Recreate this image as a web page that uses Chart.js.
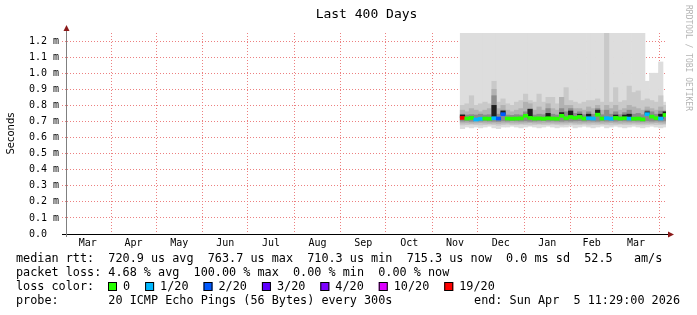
<!DOCTYPE html>
<html lang="en">
  <head>
    <meta charset="UTF-8" />
    <title>Last 400 Days</title>
    <script src="https://cdn.jsdelivr.net/npm/chart.js"></script>
    <style>
      html, body { margin: 0; padding: 0; background: #fff; }
      canvas { display: block; }
    </style>
  </head>
  <body>
    <canvas id="smokeChart" width="697" height="315"></canvas>
    <script>
      // days counted from 1 Mar 2025
      const monthStarts = [0, 31, 61, 92, 122, 153, 184, 214, 245, 275, 306, 337, 365, 396, 426];
      const monthLabels = ['Mar', 'Apr', 'May', 'Jun', 'Jul', 'Aug', 'Sep', 'Oct', 'Nov', 'Dec', 'Jan', 'Feb', 'Mar', 'Apr'];
      const yTicks = [0, 0.1, 0.2, 0.3, 0.4, 0.5, 0.6, 0.7, 0.8, 0.9, 1.0, 1.1, 1.2];

      // one entry per 3-day step (values in ms)
      const dayCenters = [265, 268, 271, 274, 277, 280, 283, 286, 289, 292, 295, 298, 301, 304, 307, 310,
        313, 316, 319, 322, 325, 328, 331, 334, 337, 340, 343, 346, 349, 352, 355, 358, 361, 364, 367, 370,
        373, 376, 379, 382, 385, 388, 391, 394, 397, 400];

      const medianRtt = [0.722, 0.718, 0.722, 0.712, 0.716, 0.718, 0.717, 0.72, 0.718, 0.745, 0.718, 0.717,
        0.718, 0.719, 0.735, 0.722, 0.718, 0.719, 0.717, 0.72, 0.718, 0.717, 0.735, 0.72, 0.728, 0.722, 0.728,
        0.718, 0.72, 0.718, 0.742, 0.718, 0.72, 0.717, 0.722, 0.718, 0.72, 0.718, 0.717, 0.718, 0.713, 0.745,
        0.73, 0.72, 0.718, 0.74];

      const lossCount = [19, 0, 0, 1, 1, 0, 0, 1, 2, 2, 0, 0, 0, 0, 0, 0, 0, 0, 0, 0, 0, 0, 0, 0, 0, 0, 0,
        0, 1, 1, 0, 0, 1, 1, 0, 0, 0, 1, 0, 0, 0, 1, 0, 0, 1, 0];

      const pingMax = [1.25, 1.25, 1.25, 1.25, 1.25, 1.25, 1.25, 1.25, 1.25, 1.25, 1.25, 1.25, 1.25, 1.25,
        1.25, 1.25, 1.25, 1.25, 1.25, 1.25, 1.25, 1.25, 1.25, 1.25, 1.25, 1.25, 1.25, 1.25, 1.25, 1.25, 1.25,
        1.25, 1.25, 1.25, 1.25, 1.25, 1.25, 1.25, 1.25, 1.25, 1.25, 0.95, 1.0, 1.0, 1.07, 0.82];
      const pingMin = [0.655, 0.665, 0.66, 0.665, 0.66, 0.665, 0.67, 0.66, 0.655, 0.665, 0.665, 0.67, 0.665,
        0.66, 0.665, 0.67, 0.665, 0.66, 0.665, 0.67, 0.665, 0.66, 0.665, 0.665, 0.67, 0.66, 0.665, 0.67, 0.665,
        0.66, 0.665, 0.67, 0.66, 0.665, 0.67, 0.665, 0.66, 0.665, 0.67, 0.665, 0.66, 0.665, 0.67, 0.665, 0.66,
        0.665];

      const smokeOuterLo = [0.678, 0.68, 0.682, 0.68, 0.678, 0.68, 0.682, 0.68, 0.676, 0.68, 0.682, 0.68, 0.68,
        0.682, 0.68, 0.678, 0.68, 0.682, 0.68, 0.68, 0.682, 0.68, 0.678, 0.68, 0.682, 0.68, 0.68, 0.682, 0.678,
        0.68, 0.68, 0.682, 0.68, 0.678, 0.68, 0.682, 0.68, 0.68, 0.682, 0.68, 0.678, 0.68, 0.682, 0.68, 0.68,
        0.682];
      const smokeOuterHi = [0.8, 0.81, 0.86, 0.8, 0.81, 0.82, 0.81, 0.95, 0.82, 0.84, 0.81, 0.8, 0.82, 0.83,
        0.87, 0.83, 0.82, 0.87, 0.82, 0.85, 0.85, 0.81, 0.84, 0.91, 0.83, 0.82, 0.81, 0.82, 0.83, 0.83, 0.84,
        0.82, 1.25, 0.82, 0.91, 0.82, 0.83, 0.92, 0.88, 0.89, 0.83, 0.84, 0.83, 0.82, 0.86, 0.8];

      const smokeMidLo = [0.69, 0.691, 0.689, 0.69, 0.692, 0.69, 0.689, 0.69, 0.688, 0.69, 0.691, 0.69, 0.69,
        0.689, 0.69, 0.692, 0.69, 0.689, 0.69, 0.691, 0.69, 0.689, 0.69, 0.69, 0.692, 0.69, 0.689, 0.69, 0.69,
        0.691, 0.69, 0.689, 0.69, 0.692, 0.69, 0.689, 0.69, 0.69, 0.691, 0.69, 0.689, 0.69, 0.69, 0.692, 0.69,
        0.689];
      const smokeMidHi = [0.77, 0.76, 0.78, 0.77, 0.76, 0.77, 0.78, 0.9, 0.78, 0.8, 0.77, 0.76, 0.77, 0.78,
        0.82, 0.81, 0.77, 0.79, 0.77, 0.81, 0.78, 0.77, 0.85, 0.8, 0.8, 0.78, 0.78, 0.77, 0.79, 0.78, 0.8, 0.77,
        0.8, 0.78, 0.8, 0.77, 0.78, 0.8, 0.79, 0.78, 0.77, 0.79, 0.78, 0.77, 0.79, 0.77];

      const smokeInnerLo = [0.702, 0.703, 0.701, 0.704, 0.702, 0.703, 0.702, 0.701, 0.7, 0.703, 0.702, 0.704,
        0.703, 0.702, 0.703, 0.701, 0.702, 0.703, 0.704, 0.702, 0.703, 0.702, 0.701, 0.703, 0.702, 0.703, 0.704,
        0.702, 0.703, 0.702, 0.701, 0.703, 0.702, 0.703, 0.702, 0.704, 0.703, 0.702, 0.703, 0.702, 0.701, 0.703,
        0.702, 0.703, 0.702, 0.703];
      const smokeInnerHi = [0.745, 0.74, 0.742, 0.74, 0.745, 0.74, 0.742, 0.86, 0.745, 0.77, 0.74, 0.738, 0.742,
        0.74, 0.76, 0.78, 0.74, 0.745, 0.742, 0.78, 0.745, 0.74, 0.78, 0.76, 0.78, 0.75, 0.76, 0.742, 0.76, 0.745,
        0.78, 0.742, 0.77, 0.745, 0.76, 0.742, 0.755, 0.77, 0.745, 0.75, 0.742, 0.77, 0.76, 0.745, 0.765, 0.76];

      // darkest part of the smoke, only where it sticks out above the median
      const smokeCoreHi = [0.74, null, null, null, null, null, null, 0.8, null, 0.765, null, null, null, null,
        null, 0.775, null, null, null, 0.75, null, null, 0.755, null, 0.765, null, 0.745, null, 0.745, null, 0.77,
        null, null, null, 0.74, null, 0.74, 0.745, null, null, null, 0.76, null, null, 0.745, 0.76];

      const lossLegend = [
        { n: 0, label: '0', color: '#26ff00' },
        { n: 1, label: '1/20', color: '#00b8ff' },
        { n: 2, label: '2/20', color: '#0059ff' },
        { n: 3, label: '3/20', color: '#5e00ff' },
        { n: 4, label: '4/20', color: '#7e00ff' },
        { n: 10, label: '10/20', color: '#dd00ff' },
        { n: 19, label: '19/20', color: '#ff0000' },
      ];

      const lossColor = (n) => {
        let c = lossLegend[0].color;
        lossLegend.forEach((l) => { if (n >= l.n) c = l.color; });
        return c;
      };

      const MONO = 'DejaVu Sans Mono';
      const gridColor = '#ec8080';
      const lineHalf = 0.0095;
      const xMin = 1.7;
      const xMax = 400.5;

      const bars = (lo, hi) =>
        dayCenters.map((d, i) => ({ x: d, y: hi[i] == null ? null : [lo[i], hi[i]] }));

      const barDefaults = {
        type: 'bar',
        grouped: false,
        barPercentage: 1,
        categoryPercentage: 1,
        borderWidth: 0,
      };

      const monthMids = [];
      for (let i = 0; i < monthLabels.length; i++) {
        const mid = (monthStarts[i] + monthStarts[i + 1]) / 2;
        if (mid > xMin && mid < xMax) monthMids.push({ value: mid, label: monthLabels[i] });
      }

      const footer = {
        id: 'footer',
        afterDraw(chart) {
          const ctx = chart.ctx;
          const a = chart.chartArea;
          ctx.save();

          // axes with arrow heads
          ctx.lineWidth = 1;
          ctx.strokeStyle = '#000';
          ctx.beginPath();
          ctx.moveTo(a.left - 5, a.bottom + 0.5);
          ctx.lineTo(a.right + 4, a.bottom + 0.5);
          ctx.stroke();
          ctx.strokeStyle = '#808080';
          ctx.beginPath();
          ctx.moveTo(a.left - 0.5, a.bottom + 3);
          ctx.lineTo(a.left - 0.5, a.top - 2);
          ctx.stroke();
          ctx.fillStyle = '#8b1a1a';
          ctx.beginPath();
          ctx.moveTo(a.right + 2, a.bottom - 2.5);
          ctx.lineTo(a.right + 8, a.bottom + 0.5);
          ctx.lineTo(a.right + 2, a.bottom + 3.5);
          ctx.fill();
          ctx.beginPath();
          ctx.moveTo(a.left - 3.5, a.top - 2);
          ctx.lineTo(a.left - 0.5, a.top - 8);
          ctx.lineTo(a.left + 2.5, a.top - 2);
          ctx.fill();

          // title
          ctx.fillStyle = '#000';
          ctx.textBaseline = 'middle';
          ctx.textAlign = 'center';
          ctx.font = '13px "' + MONO + '"';
          ctx.fillText('Last 400 Days', 366.5, 15);

          // watermark
          ctx.save();
          ctx.translate(688, 5);
          ctx.rotate(Math.PI / 2);
          ctx.textAlign = 'left';
          ctx.fillStyle = '#b4b4b4';
          ctx.font = '8px "' + MONO + '"';
          ctx.fillText('RRDTOOL / TOBI OETIKER', 0, 0);
          ctx.restore();

          // legend text
          ctx.textAlign = 'left';
          ctx.font = '11.8px "' + MONO + '"';
          const x0 = 16;
          ctx.fillText('median rtt:  720.9 us avg  763.7 us max  710.3 us min  715.3 us now  0.0 ms sd  52.5   am/s', x0, 259);
          ctx.fillText('packet loss: 4.68 % avg  100.00 % max  0.00 % min  0.00 % now', x0, 273);
          ctx.fillText('loss color:', x0, 287);
          ctx.fillText('probe:       20 ICMP Echo Pings (56 Bytes) every 300s', x0, 301);
          ctx.textAlign = 'right';
          ctx.fillText('end: Sun Apr  5 11:29:00 2026', 680, 301);

          ctx.textAlign = 'left';
          let x = 108;
          lossLegend.forEach((l) => {
            ctx.fillStyle = l.color;
            ctx.fillRect(x, 282, 9, 9);
            ctx.strokeStyle = '#000';
            ctx.strokeRect(x + 0.5, 282.5, 8, 8);
            ctx.fillStyle = '#000';
            const tx = x + 15;
            ctx.fillText(l.label, tx, 287);
            x = tx + ctx.measureText(l.label).width + 15;
          });
          ctx.restore();
        },
      };

      new Chart(document.getElementById('smokeChart'), {
        data: {
          datasets: [
            {
              ...barDefaults,
              label: 'median',
              data: dayCenters.map((d, i) => ({ x: d, y: [medianRtt[i] - lineHalf, medianRtt[i] + lineHalf] })),
              backgroundColor: lossCount.map(lossColor),
            },
            {
              ...barDefaults,
              label: 'core',
              data: dayCenters.map((d, i) => ({ x: d, y: smokeCoreHi[i] == null ? null : [medianRtt[i], smokeCoreHi[i]] })),
              backgroundColor: '#1e1e1e',
            },
            { ...barDefaults, label: 'inner', data: bars(smokeInnerLo, smokeInnerHi), backgroundColor: '#8c8c8c' },
            { ...barDefaults, label: 'mid', data: bars(smokeMidLo, smokeMidHi), backgroundColor: '#b2b2b2' },
            { ...barDefaults, label: 'outer', data: bars(smokeOuterLo, smokeOuterHi), backgroundColor: '#c9c9c9' },
            { ...barDefaults, label: 'range', data: bars(pingMin, pingMax), backgroundColor: '#dddddd' },
          ],
        },
        options: {
          responsive: false,
          animation: false,
          devicePixelRatio: 1,
          layout: { padding: { left: 0, right: 31, top: 33, bottom: 0 } },
          plugins: { legend: { display: false }, tooltip: { enabled: false } },
          scales: {
            x: {
              type: 'linear',
              min: xMin,
              max: xMax,
              offset: false,
              z: 1,
              afterBuildTicks: (s) => {
                s.ticks = monthStarts.filter((d) => d > xMin && d < xMax).map((v) => ({ value: v }));
              },
              afterFit: (s) => { s.height = 0; },
              ticks: { display: false },
              grid: { color: gridColor, drawTicks: false, offset: false },
              border: { display: false, dash: [1, 2] },
            },
            xLabels: {
              type: 'linear',
              position: 'bottom',
              min: xMin,
              max: xMax,
              offset: false,
              afterBuildTicks: (s) => {
                s.ticks = monthMids.map((m) => ({ value: m.value }));
              },
              afterFit: (s) => { s.height = 81; },
              grid: { display: false, drawTicks: false, offset: false },
              border: { display: false },
              ticks: {
                autoSkip: false,
                maxRotation: 0,
                padding: 3,
                color: '#000',
                font: { family: MONO, size: 10 },
                callback: (v, i) => monthMids[i].label,
              },
            },
            y: {
              min: 0,
              max: 1.25,
              z: 1,
              afterBuildTicks: (s) => {
                s.ticks = yTicks.map((v) => ({ value: v }));
              },
              afterFit: (s) => { s.width = 67; },
              ticks: {
                padding: 3,
                color: '#000',
                font: { family: MONO, size: 10 },
                callback: (v) => (v === 0 ? '0.0  ' : v.toFixed(1) + ' m'),
              },
              grid: { color: gridColor, tickColor: gridColor, tickLength: 5, tickBorderDash: [1, 2] },
              border: { display: false, dash: [1, 2] },
              title: {
                display: true,
                text: 'Seconds',
                color: '#000',
                font: { family: 'DejaVu Sans', size: 10 },
                padding: { top: 5, bottom: 0 },
              },
            },
          },
        },
        plugins: [footer],
      });
    </script>
  </body>
</html>
